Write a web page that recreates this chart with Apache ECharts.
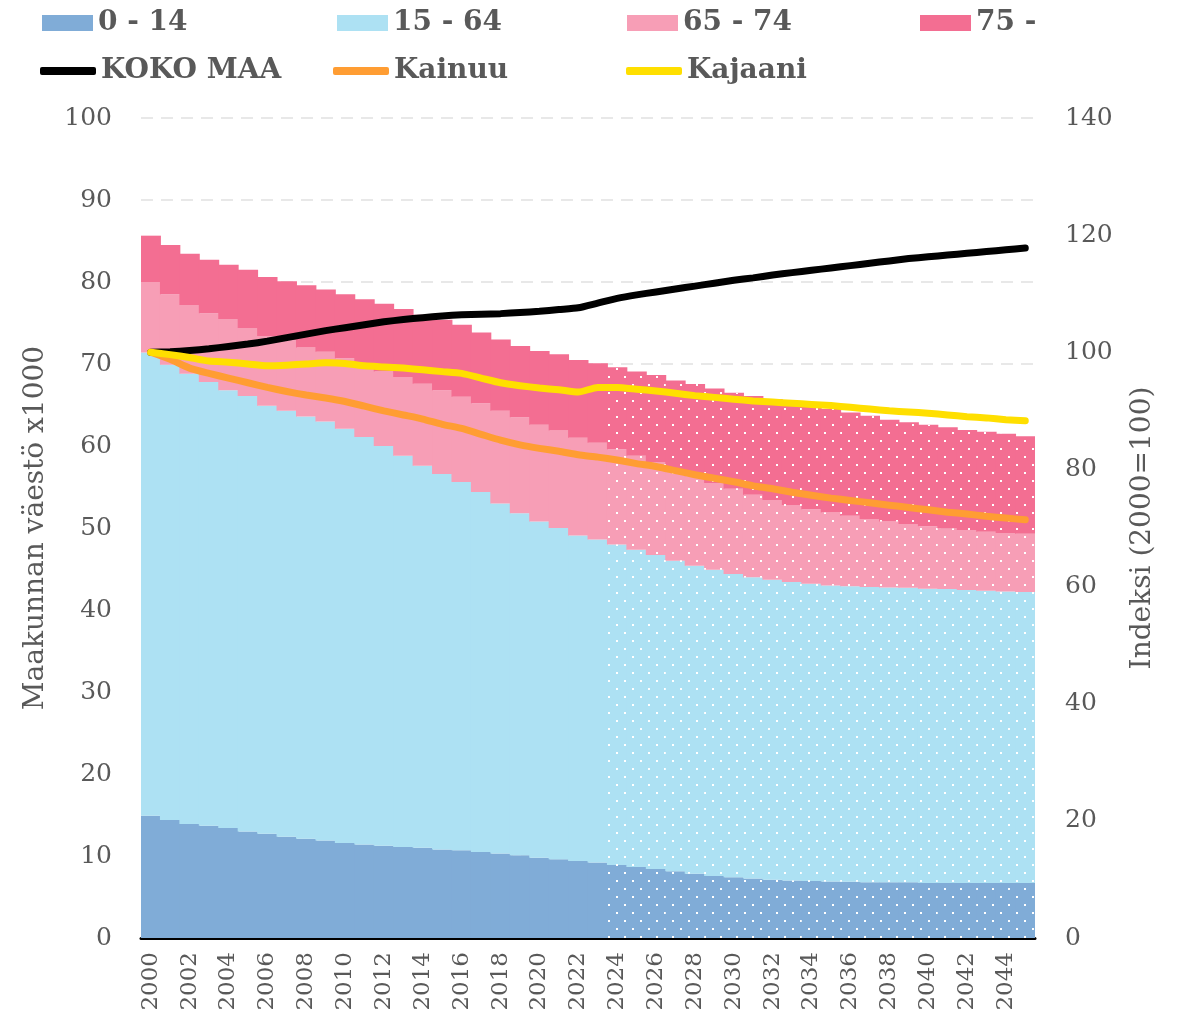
<!DOCTYPE html>
<html>
<head>
<meta charset="utf-8">
<script src="https://cdn.jsdelivr.net/npm/echarts@6/dist/echarts.min.js"></script>
<style>
  html, body { margin: 0; padding: 0; background: #fff; }
  #chart { width: 1186px; height: 1018px; }
</style>
</head>
<body>
<div id="chart"></div>
<script>
const years = [];
for (let y = 2000; y <= 2045; y++) years.push(String(y));

// väestö ikäryhmittäin, tuhatta henkeä (2024- ennuste)
const age0_14 = [14.9, 14.4, 13.9, 13.7, 13.4, 13.0, 12.7, 12.35, 12.1, 11.9,
  11.6, 11.4, 11.25, 11.1, 11.0, 10.8, 10.7, 10.5, 10.3, 10.1,
  9.8, 9.6, 9.4, 9.2, 8.9, 8.65, 8.4, 8.15, 7.85, 7.55,
  7.4, 7.25, 7.1, 7.0, 6.95, 6.9, 6.85, 6.8, 6.8, 6.8,
  6.7, 6.7, 6.7, 6.7, 6.7, 6.7];
const age15_64 = [56.5, 55.5, 54.9, 54.1, 53.4, 53.1, 52.2, 51.95, 51.5, 51.1,
  50.5, 49.7, 48.75, 47.7, 46.6, 45.8, 44.9, 43.9, 42.7, 41.7,
  41.0, 40.4, 39.7, 39.4, 39.1, 38.7, 38.3, 37.85, 37.55, 37.35,
  37.0, 36.75, 36.6, 36.4, 36.25, 36.1, 36.05, 36.0, 35.95, 35.9,
  35.9, 35.85, 35.75, 35.65, 35.55, 35.5];
const age65_74 = [8.6, 8.6, 8.4, 8.4, 8.7, 8.3, 8.5, 8.6, 8.4, 8.5,
  8.6, 8.8, 9.1, 9.6, 10.0, 10.2, 10.4, 10.8, 11.3, 11.7,
  11.8, 11.9, 11.9, 11.8, 11.6, 11.45, 11.3, 11.2, 10.9, 10.6,
  10.4, 10.05, 9.7, 9.4, 9.1, 8.9, 8.6, 8.3, 8.05, 7.8,
  7.6, 7.4, 7.3, 7.2, 7.15, 7.1];
const age75 = [5.65, 6.0, 6.25, 6.5, 6.6, 7.1, 7.2, 7.2, 7.6, 7.6,
  7.8, 8.0, 8.25, 8.3, 8.4, 8.6, 8.8, 8.65, 8.7, 8.7,
  9.0, 9.3, 9.5, 9.7, 10.0, 10.3, 10.65, 10.8, 11.25, 11.5,
  11.7, 12.05, 12.3, 12.4, 12.6, 12.6, 12.6, 12.6, 12.4, 12.4,
  12.4, 12.35, 12.2, 12.2, 12.1, 11.9];

// indeksit 2000=100
const kokoMaa = [100, 100.1, 100.3, 100.6, 101.0, 101.4, 101.9, 102.5, 103.1, 103.7,
  104.2, 104.7, 105.2, 105.6, 105.9, 106.2, 106.4, 106.5, 106.6, 106.8,
  107.0, 107.3, 107.6, 108.4, 109.2, 109.8, 110.3, 110.8, 111.3, 111.8,
  112.3, 112.7, 113.2, 113.6, 114.0, 114.4, 114.8, 115.2, 115.6, 116.0,
  116.3, 116.6, 116.9, 117.2, 117.5, 117.8];
const kainuu = [100, 98.8, 97.3, 96.4, 95.6, 94.8, 94.0, 93.3, 92.7, 92.2,
  91.6, 90.8, 90.0, 89.3, 88.6, 87.7, 87.0, 86.0, 85.0, 84.2,
  83.6, 83.1, 82.5, 82.1, 81.6, 81.0, 80.5, 79.8, 79.1, 78.5,
  77.9, 77.2, 76.7, 76.1, 75.6, 75.1, 74.7, 74.3, 73.9, 73.5,
  73.1, 72.7, 72.4, 72.0, 71.7, 71.4];
const kajaani = [100, 99.6, 99.1, 98.5, 98.3, 98.0, 97.7, 97.8, 98.0, 98.2,
  98.1, 97.7, 97.5, 97.3, 97.0, 96.7, 96.4, 95.6, 94.8, 94.3,
  93.9, 93.6, 93.2, 94.0, 94.0, 93.7, 93.4, 93.0, 92.6, 92.3,
  92.0, 91.7, 91.5, 91.3, 91.1, 90.9, 90.6, 90.3, 90.0, 89.8,
  89.6, 89.3, 89.0, 88.8, 88.5, 88.3];

const projStart = years.indexOf('2024');
const dots = {
  symbol: 'rect',
  symbolSize: 1,
  color: '#ffffff',
  dashArrayX: [[2, 14], [0, 8, 2, 6]],
  dashArrayY: [2, 6],
  rotation: 0
};

const serif = 'DejaVu Serif';
const grey = '#595959';

function barData(values) {
  return values.map((v, i) => i >= projStart ? { value: v, itemStyle: { decal: dots } } : v);
}

function barSeries(name, values, color) {
  return {
    name: name,
    type: 'bar',
    stack: 'vaesto',
    barWidth: 20.4,
    itemStyle: { color: color },
    data: barData(values)
  };
}

function lineSeries(name, values, color) {
  return {
    name: name,
    type: 'line',
    yAxisIndex: 1,
    data: values,
    symbol: 'none',
    smooth: 0.2,
    z: 5,
    lineStyle: { color: color, width: 7, cap: 'round', join: 'round' },
    itemStyle: { color: color }
  };
}

function legendItem(name, left, top, isLine) {
  return {
    data: [name],
    left: left,
    top: top,
    padding: 0,
    itemWidth: isLine ? 56 : 51,
    itemHeight: isLine ? 8 : 16,
    icon: isLine ? 'roundRect' : 'rect',
    itemGap: 0,
    selectedMode: false,
    textStyle: { fontFamily: serif, fontWeight: 'bold', fontSize: 28, color: grey, padding: [0, 0, 0, 0] }
  };
}

const chart = echarts.init(document.getElementById('chart'));

const option = {
  animation: false,
  legend: [
    legendItem('0 - 14', 42, 9, false),
    legendItem('15 - 64', 337, 9, false),
    legendItem('65 - 74', 627, 9, false),
    legendItem('75 -', 920, 9, false),
    legendItem('KOKO MAA', 40, 57, true),
    legendItem('Kainuu', 333, 57, true),
    legendItem('Kajaani', 626, 57, true)
  ],
  grid: { left: 141, right: 151, top: 118, bottom: 80 },
  xAxis: {
    type: 'category',
    data: years,
    axisLine: { lineStyle: { color: '#000000', width: 3 } },
    axisTick: { show: false },
    axisLabel: {
      interval: 1,
      rotate: 90,
      margin: 14,
      fontFamily: serif,
      fontSize: 23,
      color: grey
    }
  },
  yAxis: [
    {
      type: 'value',
      min: 0,
      max: 100,
      interval: 10,
      name: 'Maakunnan väestö x1000',
      nameLocation: 'middle',
      nameGap: 91,
      nameTextStyle: { fontFamily: serif, fontSize: 28, color: grey },
      axisLine: { show: false },
      axisTick: { show: false },
      axisLabel: { fontFamily: serif, fontSize: 25, color: grey, margin: 29 },
      splitLine: { lineStyle: { color: '#e8e8e8', width: 2, type: [12, 8] } }
    },
    {
      type: 'value',
      min: 0,
      max: 140,
      interval: 20,
      name: 'Indeksi (2000=100)',
      nameLocation: 'middle',
      nameGap: 94,
      nameTextStyle: { fontFamily: serif, fontSize: 28, color: grey },
      axisLine: { show: false },
      axisTick: { show: false },
      axisLabel: { fontFamily: serif, fontSize: 25, color: grey, margin: 30 },
      splitLine: { show: false }
    }
  ],
  series: [
    barSeries('0 - 14', age0_14, '#80acd7'),
    barSeries('15 - 64', age15_64, '#ade1f3'),
    barSeries('65 - 74', age65_74, '#f79eb6'),
    barSeries('75 -', age75, '#f36e92'),
    lineSeries('KOKO MAA', kokoMaa, '#000000'),
    lineSeries('Kainuu', kainuu, '#ff9d33'),
    lineSeries('Kajaani', kajaani, '#ffdf00')
  ]
};

chart.setOption(option);

window.addEventListener('resize', () => chart.resize());
</script>
</body>
</html>
